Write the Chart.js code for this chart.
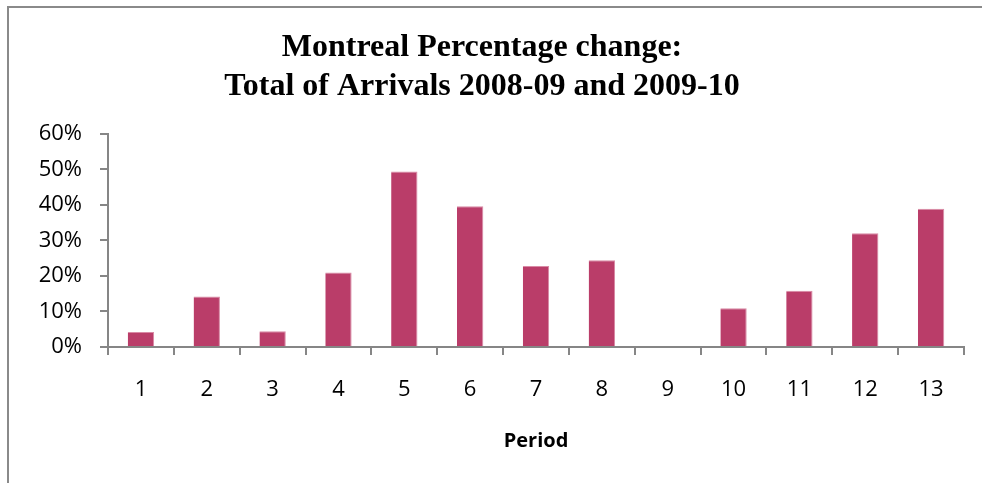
<!DOCTYPE html>
<html lang="en">
<head>
    <meta charset="UTF-8">
    <title>Montreal Percentage change</title>
    <style>
        html, body {
            margin: 0;
            width: 982px;
            height: 483px;
            overflow: hidden;
            background: #fff;
        }

        canvas {
            display: block;
        }
    </style>
    <script src="https://cdn.jsdelivr.net/npm/chart.js"></script>
</head>
<body>
    <canvas id="chart" width="982" height="483"></canvas>

    <script>
        // data (percent)
        const periods = ['1', '2', '3', '4', '5', '6', '7', '8', '9', '10', '11', '12', '13'];
        const pctChange = [4.2, 14.2, 4.4, 21.0, 49.4, 39.6, 22.8, 24.4, -0.3, 10.9, 15.8, 32.0, 38.9];
        const yTicks = [0, 10, 20, 30, 40, 50, 60];

        const axisGrey = '#868686';
        const tickFont = { family: 'Open Sans', size: 22 };

        // chart frame: only the left and top edges show in the picture
        const framePlugin = {
            id: 'frame',
            beforeDraw(chart) {
                const c = chart.ctx;
                c.save();
                c.strokeStyle = '#8a8a8a';
                c.lineWidth = 2;
                c.beginPath();
                c.moveTo(8, chart.height + 60);
                c.lineTo(8, 7);
                c.lineTo(chart.width + 60, 7);
                c.stroke();
                c.beginPath();
                c.restore();
            }
        };

        const ctx = document.getElementById('chart').getContext('2d');

        new Chart(ctx, {
            type: 'bar',
            data: {
                labels: periods,
                datasets: [{
                    data: pctChange,
                    backgroundColor: '#BA3D69',
                    borderColor: '#D98AA5',
                    borderWidth: { top: 1, left: 0, right: 1, bottom: 0 },
                    categoryPercentage: 1,
                    barPercentage: 0.4,
                    clip: false
                }]
            },
            plugins: [framePlugin],
            options: {
                responsive: false,
                animation: false,
                layout: {
                    padding: { left: 0, right: 18, top: 0, bottom: 30 }
                },
                plugins: {
                    legend: { display: false },
                    tooltip: { enabled: false },
                    title: {
                        display: true,
                        text: ['Montreal Percentage change:', 'Total of Arrivals 2008-09 and 2009-10'],
                        color: '#000',
                        font: { family: 'Liberation Serif', size: 32, weight: 'bold', lineHeight: 1.2 },
                        padding: { top: 29, bottom: 28 }
                    }
                },
                scales: {
                    x: {
                        afterFit: (scale) => {
                            scale.height = 106;
                        },
                        grid: {
                            offset: true,
                            drawOnChartArea: false,
                            tickLength: 8,
                            color: axisGrey,
                            lineWidth: 2
                        },
                        border: { color: axisGrey, width: 2 },
                        ticks: {
                            color: '#000',
                            font: tickFont,
                            padding: 22,
                            maxRotation: 0
                        },
                        title: {
                            display: true,
                            text: 'Period',
                            color: '#000',
                            font: { family: 'Open Sans', size: 20, weight: 'bold' },
                            padding: { top: 20, bottom: 0 }
                        }
                    },
                    y: {
                        min: 0,
                        max: 60,
                        afterBuildTicks: (scale) => {
                            scale.ticks = yTicks.map(v => ({ value: v }));
                        },
                        afterFit: (scale) => {
                            scale.width = 108;
                        },
                        grid: {
                            drawOnChartArea: false,
                            tickLength: 8,
                            color: axisGrey,
                            lineWidth: 2
                        },
                        border: { color: axisGrey, width: 2 },
                        ticks: {
                            color: '#000',
                            font: tickFont,
                            padding: 18,
                            callback: (v) => v + '%'
                        }
                    }
                }
            }
        });
    </script>
</body>
</html>
